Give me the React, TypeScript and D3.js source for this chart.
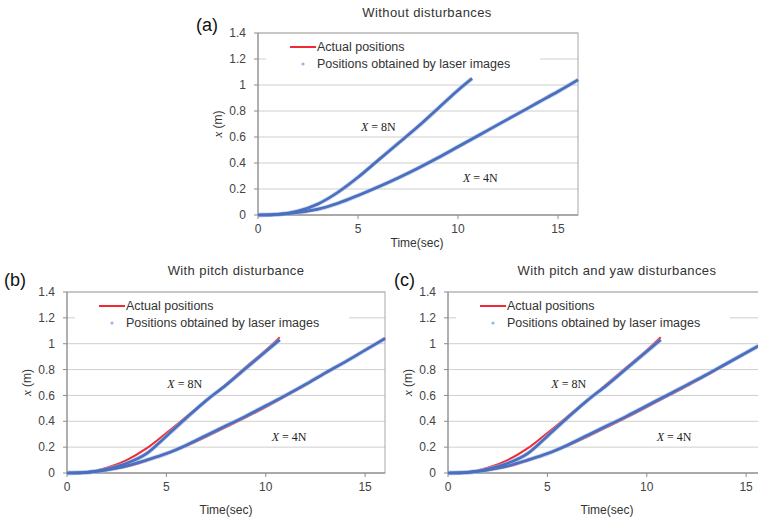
import * as d3 from "d3";

// time stamps (sec)
const t8 = [0, 1, 2, 3, 4, 5, 6, 7, 8, 9, 10, 10.7];
const t4 = [0, 1, 2, 3, 4, 5, 6, 7, 8, 9, 10, 11, 12, 13, 14, 15, 16];

// (a) without disturbances
const aActual8 = [0, 0.005, 0.03, 0.085, 0.175, 0.29, 0.42, 0.55, 0.68, 0.82, 0.96, 1.05];
const aLaser8 = [0, 0.005, 0.03, 0.085, 0.175, 0.29, 0.42, 0.55, 0.68, 0.82, 0.96, 1.05];
const aActual4 = [0, 0.005, 0.02, 0.045, 0.09, 0.15, 0.215, 0.285, 0.36, 0.44, 0.525, 0.61, 0.695, 0.78, 0.865, 0.95, 1.04];
const aLaser4 = [0, 0.005, 0.02, 0.045, 0.09, 0.15, 0.215, 0.285, 0.36, 0.44, 0.525, 0.61, 0.695, 0.78, 0.865, 0.95, 1.04];

// (b) with pitch disturbance
const bActual8 = [0, 0.005, 0.04, 0.1, 0.19, 0.31, 0.435, 0.56, 0.685, 0.82, 0.95, 1.05];
const bLaser8 = [0, 0.005, 0.03, 0.075, 0.15, 0.285, 0.425, 0.56, 0.68, 0.81, 0.94, 1.03];
const bActual4 = [0, 0.005, 0.022, 0.05, 0.095, 0.148, 0.21, 0.28, 0.355, 0.43, 0.51, 0.595, 0.68, 0.77, 0.86, 0.95, 1.045];
const bLaser4 = [0, 0.005, 0.024, 0.055, 0.1, 0.15, 0.215, 0.29, 0.365, 0.44, 0.52, 0.6, 0.685, 0.775, 0.86, 0.95, 1.04];

// (c) with pitch and yaw disturbances
const cActual8 = [0, 0.005, 0.04, 0.1, 0.19, 0.31, 0.435, 0.56, 0.69, 0.82, 0.95, 1.05];
const cLaser8 = [0, 0.005, 0.03, 0.075, 0.15, 0.285, 0.425, 0.56, 0.68, 0.81, 0.94, 1.03];
const cActual4 = [0, 0.005, 0.022, 0.05, 0.095, 0.148, 0.21, 0.28, 0.355, 0.43, 0.51, 0.59, 0.67, 0.755, 0.84, 0.93, 1.02];
const cLaser4 = [0, 0.005, 0.024, 0.055, 0.1, 0.15, 0.215, 0.29, 0.365, 0.44, 0.52, 0.6, 0.68, 0.76, 0.845, 0.93, 1.015];

const yTicks = [0, 0.2, 0.4, 0.6, 0.8, 1, 1.2, 1.4];
const xTicks = [0, 5, 10, 15];
const legendLabels = ["Actual positions", "Positions obtained by laser images"];

const SANS = "'Liberation Sans', Arial, sans-serif";
const SERIF = "'Liberation Serif', 'Times New Roman', serif";
const RED = "#ee2a36";
const BLUE = "#4a6fbf";
const BLUE_LIGHT = "#9ab6e4";

const panels = [
  {
    tag: "(a)", title: "Without disturbances",
    left: 258, right: 578, top: 33, bottom: 215,
    tagX: 196, tagY: 31, titleY: 17, xLabelDy: 32,
    actual8: aActual8, laser8: aLaser8, actual4: aActual4, laser4: aLaser4,
    ann8: [5.15, 0.68], ann4: [10.25, 0.285],
  },
  {
    tag: "(b)", title: "With pitch disturbance",
    left: 67, right: 385, top: 292, bottom: 473,
    tagX: 4, tagY: 286, titleY: 275, xLabelDy: 41,
    actual8: bActual8, laser8: bLaser8, actual4: bActual4, laser4: bLaser4,
    ann8: [5.05, 0.69], ann4: [10.3, 0.28],
  },
  {
    tag: "(c)", title: "With pitch and yaw disturbances",
    left: 448, right: 766, top: 292, bottom: 473,
    tagX: 394, tagY: 286, titleY: 275, xLabelDy: 41,
    actual8: cActual8, laser8: cLaser8, actual4: cActual4, laser4: cLaser4,
    ann8: [5.2, 0.69], ann4: [10.5, 0.28],
  },
];

type PanelCfg = (typeof panels)[number];

function Panel({ p }: { p: PanelCfg }) {
  const x = d3.scaleLinear().domain([0, 16]).range([p.left, p.right]);
  const y = d3.scaleLinear().domain([0, 1.4]).range([p.bottom, p.top]);
  const line = (ts: number[]) =>
    d3
      .line<number>()
      .x((_, i) => x(ts[i]))
      .y((d) => y(d))
      .curve(d3.curveMonotoneX);
  const l8 = line(t8);
  const l4 = line(t4);
  const cx = p.left + 159;
  const lx = p.left;
  const ly = p.top;

  return (
    <g>
      <text x={p.tagX} y={p.tagY} fontSize={18} fontFamily={SANS} fill="#111">
        {p.tag}
      </text>
      <text
        x={p.left + 169}
        y={p.titleY}
        textAnchor="middle"
        fontSize={13}
        letterSpacing={0.4}
        fontFamily={SANS}
        fill="#333"
      >
        {p.title}
      </text>

      {/* gridlines */}
      {yTicks.map((v) => (
        <line
          key={v}
          x1={p.left}
          x2={p.right}
          y1={y(v)}
          y2={y(v)}
          stroke="#cfcfcf"
          strokeWidth={1}
        />
      ))}

      {/* legend */}
      <rect x={lx + 8} y={ly + 4} width={274} height={37} fill="#fff" />
      <line x1={lx + 32} x2={lx + 58} y1={ly + 14} y2={ly + 14} stroke={RED} strokeWidth={2} />
      <text x={lx + 59} y={ly + 14} dy="0.35em" fontSize={12.5} fontFamily={SANS} fill="#333">
        {legendLabels[0]}
      </text>
      <circle cx={lx + 45} cy={ly + 31} r={1.6} fill={BLUE_LIGHT} />
      <text x={lx + 59} y={ly + 31} dy="0.35em" fontSize={12.5} fontFamily={SANS} fill="#333">
        {legendLabels[1]}
      </text>

      {/* plot frame */}
      <rect
        x={p.left}
        y={p.top}
        width={p.right - p.left}
        height={p.bottom - p.top}
        fill="none"
        stroke="#a8a8a8"
        strokeWidth={1}
      />
      <line x1={p.left} x2={p.left} y1={p.top} y2={p.bottom} stroke="#8c8c8c" />
      <line x1={p.left} x2={p.right} y1={p.bottom} y2={p.bottom} stroke="#8c8c8c" />

      {/* y axis */}
      {yTicks.map((v) => (
        <g key={v}>
          <line x1={p.left - 4} x2={p.left} y1={y(v)} y2={y(v)} stroke="#8c8c8c" />
          <text
            x={p.left - 12}
            y={y(v)}
            dy="0.35em"
            textAnchor="end"
            fontSize={12}
            fontFamily={SANS}
            fill="#444"
          >
            {d3.format("~g")(v)}
          </text>
        </g>
      ))}
      <text
        transform={`translate(${p.left - 40},${(p.top + p.bottom) / 2}) rotate(-90)`}
        textAnchor="middle"
        dy="0.35em"
        fontSize={12}
        fontFamily={SANS}
        fill="#333"
      >
        <tspan fontFamily={SERIF} fontStyle="italic" fontSize={13}>
          x
        </tspan>
        {" (m)"}
      </text>

      {/* x axis */}
      {xTicks.map((v) => (
        <g key={v}>
          <line x1={x(v)} x2={x(v)} y1={p.bottom} y2={p.bottom + 4} stroke="#8c8c8c" />
          <text
            x={x(v)}
            y={p.bottom + 14}
            dy="0.35em"
            textAnchor="middle"
            fontSize={12}
            fontFamily={SANS}
            fill="#444"
          >
            {v}
          </text>
        </g>
      ))}
      <text
        x={cx}
        y={p.bottom + p.xLabelDy}
        textAnchor="middle"
        fontSize={12}
        fontFamily={SANS}
        fill="#333"
      >
        Time(sec)
      </text>

      {/* series */}
      <path d={l8(p.actual8) ?? ""} fill="none" stroke={RED} strokeWidth={2} />
      <path d={l4(p.actual4) ?? ""} fill="none" stroke={RED} strokeWidth={2} />
      <path d={l8(p.laser8) ?? ""} fill="none" stroke={BLUE_LIGHT} strokeWidth={4.4} strokeOpacity={0.6} />
      <path d={l4(p.laser4) ?? ""} fill="none" stroke={BLUE_LIGHT} strokeWidth={4.4} strokeOpacity={0.6} />
      <path d={l8(p.laser8) ?? ""} fill="none" stroke={BLUE} strokeWidth={2.7} />
      <path d={l4(p.laser4) ?? ""} fill="none" stroke={BLUE} strokeWidth={2.7} />

      {/* annotations */}
      {[
        { pos: p.ann8, n: "8N" },
        { pos: p.ann4, n: "4N" },
      ].map((a) => (
        <text
          key={a.n}
          x={x(a.pos[0])}
          y={y(a.pos[1])}
          dy="0.35em"
          fontSize={12}
          fontFamily={SERIF}
          fill="#222"
        >
          <tspan fontStyle="italic">X</tspan>
          {` = ${a.n}`}
        </text>
      ))}
    </g>
  );
}

export default function App() {
  return (
    <svg
      width={758}
      height={518}
      style={{ position: "absolute", left: 0, top: 0, background: "#fff" }}
    >
      {panels.map((p) => (
        <Panel key={p.tag} p={p} />
      ))}
    </svg>
  );
}
